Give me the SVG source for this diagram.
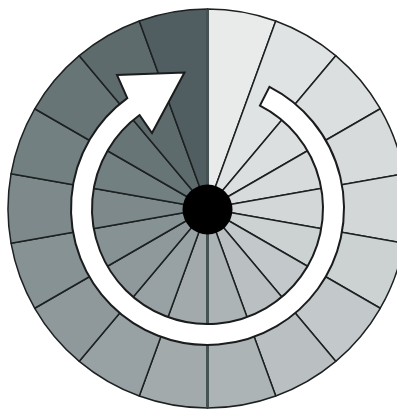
<svg xmlns="http://www.w3.org/2000/svg" xmlns:xlink="http://www.w3.org/1999/xlink" width="397" height="412" viewBox="0 0 397 412">
  <style>
    .w { stroke: #1c2021; stroke-width: 1.5; stroke-linejoin: round; }
    .axis { stroke: #465153; stroke-width: 3; }
    .arrow { fill: #ffffff; stroke: #1a1c1d; stroke-width: 2; stroke-linejoin: miter; }
  </style>
  <defs>
    <path id="w" class="w" d="M0,0 L0,-199.5 A199.5,199.5 0 0 1 68.23,-187.47 Z"/>
  </defs>
  <rect width="397" height="412" fill="#ffffff"/>
  <g transform="translate(207.5 208.5)">
    <g id="sectors">
      <use xlink:href="#w" href="#w" transform="rotate(0)" fill="#e9ebeb"/>
      <use xlink:href="#w" href="#w" transform="rotate(20)" fill="#e0e3e4"/>
      <use xlink:href="#w" href="#w" transform="rotate(40)" fill="#dbdfe0"/>
      <use xlink:href="#w" href="#w" transform="rotate(60)" fill="#d7dbdc"/>
      <use xlink:href="#w" href="#w" transform="rotate(80)" fill="#d3d7d8"/>
      <use xlink:href="#w" href="#w" transform="rotate(100)" fill="#ccd1d2"/>
      <use xlink:href="#w" href="#w" transform="rotate(120)" fill="#c3c9cb"/>
      <use xlink:href="#w" href="#w" transform="rotate(140)" fill="#bac0c2"/>
      <use xlink:href="#w" href="#w" transform="rotate(160)" fill="#adb4b6"/>
      <use xlink:href="#w" href="#w" transform="rotate(180)" fill="#a2aaac"/>
      <use xlink:href="#w" href="#w" transform="rotate(200)" fill="#98a1a3"/>
      <use xlink:href="#w" href="#w" transform="rotate(220)" fill="#8f999b"/>
      <use xlink:href="#w" href="#w" transform="rotate(240)" fill="#879294"/>
      <use xlink:href="#w" href="#w" transform="rotate(260)" fill="#7d898b"/>
      <use xlink:href="#w" href="#w" transform="rotate(280)" fill="#728082"/>
      <use xlink:href="#w" href="#w" transform="rotate(300)" fill="#687577"/>
      <use xlink:href="#w" href="#w" transform="rotate(320)" fill="#5e6b6d"/>
      <use xlink:href="#w" href="#w" transform="rotate(340)" fill="#505e61"/>
    </g>
    <g id="axis">
      <line class="axis" x1="0" y1="-199" x2="0" y2="199"/>
    </g>
    <g id="arrow">
      <path class="arrow" d="M61.97,-121.62 A136.5,136.5 0 1 1 -80.23,-110.43 L-90.5,-133.5 L-23,-136 L-55.5,-75.5 L-67.89,-93.44 A115.5,115.5 0 1 0 52.44,-102.91 Z"/>
    </g>
    <g id="hub">
      <circle cx="0" cy="1" r="25" fill="#000000"/>
    </g>
  </g>
</svg>
